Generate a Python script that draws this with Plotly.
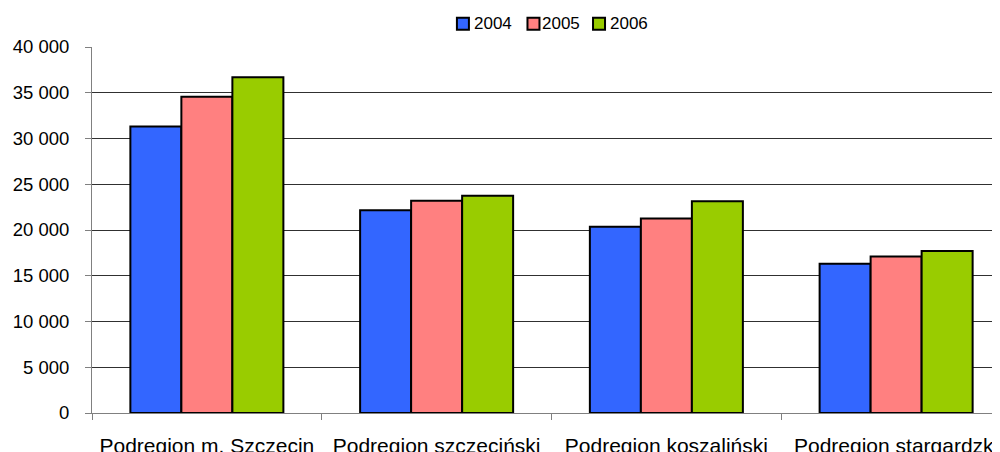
import plotly.graph_objects as go

categories = ["Podregion m. Szczecin", "Podregion szczeciński", "Podregion koszaliński", "Podregion stargardzki"]
years = ["2004", "2005", "2006"]
values_2004 = [31300, 22150, 20350, 16300]
values_2005 = [34550, 23200, 21250, 17100]
values_2006 = [36700, 23750, 23150, 17700]
colors = ["#3366FF", "#FF8080", "#99CC00"]
y_ticks = [0, 5000, 10000, 15000, 20000, 25000, 30000, 35000, 40000]

series = [values_2004, values_2005, values_2006]
FONT = "Liberation Sans, Arial, sans-serif"

fig = go.Figure()
for name, vals, col in zip(years, series, colors):
    fig.add_trace(go.Bar(
        x=categories, y=vals, name=name,
        marker=dict(color=col, line=dict(color="black", width=2)),
        showlegend=False,
    ))

# custom legend (shapes + annotations)
leg_sq_x = [0.4085, 0.4862, 0.5584]
leg_tx_x = [0.4199, 0.4945, 0.5694]
leg_y = 1.0637
for name, col, sx, tx in zip(years, colors, leg_sq_x, leg_tx_x):
    fig.add_shape(type="rect", xref="paper", yref="paper",
                  xsizemode="pixel", ysizemode="pixel",
                  xanchor=sx, yanchor=leg_y, x0=-6, x1=6, y0=-6, y1=6,
                  fillcolor=col, line=dict(color="black", width=2))
    fig.add_annotation(text=name, xref="paper", yref="paper", x=tx, y=leg_y,
                       xanchor="left", yanchor="middle", showarrow=False,
                       borderpad=0, font=dict(family=FONT, size=17, color="black"))

# page body has an 8px default margin; compensate in the figure size/margins
fig.update_layout(
    width=992, height=444,
    margin=dict(l=84, r=0, t=39, b=39),
    template="none",
    paper_bgcolor="white", plot_bgcolor="white",
    barmode="group", bargap=0.334, bargroupgap=0,
    separators=", ",
    font=dict(family=FONT, color="black"),
    xaxis=dict(
        type="category",
        range=[-0.5, 3.5 - 11 / 229.75],
        tickson="boundaries", ticks="outside", ticklen=6, tickcolor="#808080",
        showline=True, linecolor="#808080", linewidth=1,
        showgrid=False, zeroline=False,
        tickfont=dict(family=FONT, size=21, color="black"),
        ticklabelstandoff=14,
    ),
    yaxis=dict(
        range=[0, 40000], tickvals=y_ticks, tickformat=",d",
        ticks="outside", ticklen=6, tickcolor="#808080",
        showline=True, linecolor="#808080", linewidth=1,
        showgrid=True, gridcolor="#303030", gridwidth=1,
        zeroline=False,
        tickfont=dict(family=FONT, size=18.5, color="black"),
        ticklabelstandoff=12,
    ),
)

fig.write_html("out.html")
